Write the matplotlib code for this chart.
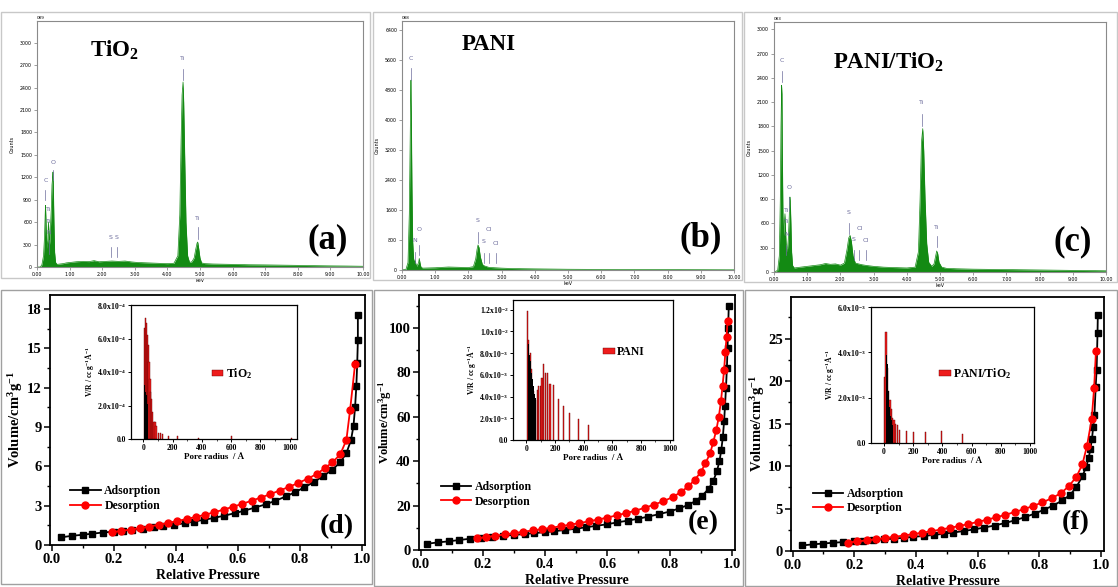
import numpy as np
import matplotlib
matplotlib.use('Agg')
import matplotlib.pyplot as plt
from matplotlib.patches import Rectangle
from matplotlib.ticker import MultipleLocator, FormatStrFormatter

plt.rcParams['font.family'] = ['Liberation Serif', 'DejaVu Serif']
plt.rcParams['font.weight'] = 'bold'
plt.rcParams['axes.labelweight'] = 'bold'
plt.rcParams['mathtext.fontset'] = 'custom'
plt.rcParams['mathtext.rm'] = 'Liberation Serif:bold'
plt.rcParams['mathtext.it'] = 'Liberation Serif:italic:bold'
plt.rcParams['mathtext.bf'] = 'Liberation Serif:bold'

W, H = 1118, 587

# EDS espectros (linha de cima)
tio2_kev = [0.0, 0.10, 0.15, 0.20, 0.23, 0.25, 0.26, 0.27, 0.29, 0.31, 0.33, 0.35, 0.37, 0.39, 0.41,
            0.44, 0.46, 0.48, 0.49, 0.50, 0.52, 0.54, 0.57, 0.62, 0.70, 0.8, 0.9, 1.0, 1.2, 1.4,
            1.6, 1.75, 1.9, 2.1, 2.3, 2.5, 2.7, 2.9, 3.1, 3.4, 3.7, 4.0, 4.2, 4.32, 4.38,
            4.42, 4.45, 4.48, 4.50, 4.53, 4.57, 4.62, 4.68, 4.75, 4.82, 4.87, 4.91, 4.93, 4.96, 5.0,
            5.05, 5.15, 5.4, 6.0, 6.5, 7.0, 7.5, 8.0, 8.5, 9.0, 9.5, 10.0]
tio2_counts = [0, 0, 30, 150, 400, 700, 825, 700, 400, 250, 350, 600, 450, 300, 500,
               800, 1100, 1200, 1270, 1100, 600, 200, 60, 35, 40, 45, 55, 60, 70, 75,
               72, 85, 70, 75, 80, 75, 80, 68, 60, 55, 50, 45, 50, 150, 700,
               1700, 2300, 2474, 2200, 1500, 600, 150, 60, 70, 120, 240, 320, 334, 250, 120,
               55, 45, 40, 35, 30, 28, 25, 22, 18, 15, 13, 10]

pani_kev = [0.0, 0.12, 0.18, 0.22, 0.24, 0.26, 0.27, 0.28, 0.30, 0.32, 0.35, 0.38, 0.40, 0.42, 0.45,
            0.50, 0.52, 0.54, 0.57, 0.62, 0.8, 1.0, 1.2, 1.4, 1.6, 1.8, 2.0, 2.15, 2.22, 2.26,
            2.29, 2.32, 2.36, 2.42, 2.48, 2.55, 2.62, 2.7, 2.8, 3.0, 3.3, 3.6, 4.0, 4.5, 5.0,
            6.0, 7.0, 8.0, 9.0, 10.0]
pani_counts = [0, 20, 200, 1500, 3000, 4500, 5070, 4200, 2200, 800, 300, 200, 250, 150, 100,
               200, 310, 200, 80, 50, 55, 60, 70, 80, 75, 70, 65, 90, 300, 550,
               670, 600, 350, 150, 110, 90, 70, 65, 60, 50, 40, 35, 30, 25, 20,
               15, 12, 10, 8, 5]

comp_kev = [0.0, 0.11, 0.16, 0.19, 0.21, 0.23, 0.24, 0.25, 0.27, 0.29, 0.31, 0.33, 0.35, 0.37, 0.40,
            0.43, 0.46, 0.48, 0.49, 0.51, 0.53, 0.56, 0.61, 0.8, 1.0, 1.2, 1.4, 1.55, 1.7, 1.85,
            2.0, 2.12, 2.2, 2.25, 2.29, 2.33, 2.38, 2.45, 2.55, 2.65, 2.8, 3.0, 3.3, 3.6, 4.0,
            4.25, 4.35, 4.40, 4.44, 4.48, 4.51, 4.55, 4.60, 4.66, 4.75, 4.82, 4.87, 4.90, 4.93, 4.97,
            5.05, 5.2, 5.5, 6.0, 7.0, 8.0, 9.0, 10.0]
comp_counts = [0, 20, 200, 900, 1800, 2308, 2200, 1500, 700, 450, 600, 720, 500, 300, 250,
               400, 700, 927, 880, 600, 250, 80, 50, 60, 70, 80, 90, 105, 95, 100,
               85, 110, 280, 420, 453, 380, 200, 110, 100, 90, 80, 70, 60, 55, 50,
               60, 250, 900, 1600, 1772, 1500, 900, 350, 120, 70, 100, 200, 260, 230, 120,
               60, 45, 40, 35, 30, 25, 20, 15]

# (nome, keV, y do texto, inicio e fim da barrinha)
tio2_peaks = [('C', 0.26, 1160, 890, 1030), ('O', 0.50, 1400, 1160, 1300), ('Ti', 0.37, 770, 0, 0),
              ('Ti', 0.37, 615, 0, 0), ('N', 0.37, 460, 180, 360), ('S', 2.27, 400, 135, 265),
              ('S', 2.44, 400, 135, 265), ('Ti', 4.48, 2790, 2500, 2650), ('Ti', 4.93, 650, 380, 535)]
pani_peaks = [('C', 0.26, 5660, 5080, 5390), ('N', 0.38, 780, 180, 490), ('O', 0.52, 1070, 400, 670),
              ('S', 2.29, 1320, 710, 1025), ('S', 2.46, 760, 180, 445), ('Cl', 2.62, 1090, 180, 445),
              ('Cl', 2.82, 710, 180, 445)]
comp_peaks = [('C', 0.23, 2620, 2350, 2490), ('O', 0.46, 1050, 760, 930), ('Ti', 0.37, 755, 0, 0),
              ('Ti', 0.37, 620, 0, 0), ('N', 0.37, 465, 205, 330), ('S', 2.25, 740, 475, 605),
              ('S', 2.41, 400, 145, 270), ('Cl', 2.57, 535, 145, 270), ('Cl', 2.77, 385, 145, 270),
              ('Ti', 4.46, 2090, 1800, 1955), ('Ti', 4.90, 555, 310, 440)]

# Isotermas (linha de baixo)
tio2_ads_p = [0.03, 0.065, 0.10, 0.13, 0.165, 0.20, 0.23, 0.26, 0.295, 0.33, 0.36, 0.395, 0.43, 0.46, 0.49,
              0.525, 0.555, 0.59, 0.62, 0.655, 0.69, 0.72, 0.755, 0.785, 0.815, 0.845, 0.875, 0.905, 0.93, 0.95,
              0.965, 0.973, 0.978, 0.982, 0.985, 0.987, 0.987]
tio2_ads_v = [0.58, 0.70, 0.78, 0.86, 0.95, 1.02, 1.08, 1.16, 1.24, 1.34, 1.43, 1.54, 1.66, 1.79, 1.92,
              2.07, 2.23, 2.42, 2.61, 2.85, 3.10, 3.36, 3.70, 4.03, 4.40, 4.80, 5.25, 5.75, 6.30, 7.0,
              8.0, 9.1, 10.5, 12.1, 13.9, 15.6, 17.5]
tio2_des_p = [0.195, 0.225, 0.255, 0.285, 0.315, 0.345, 0.375, 0.405, 0.435, 0.465, 0.495, 0.525, 0.555, 0.585, 0.615,
              0.645, 0.675, 0.705, 0.735, 0.765, 0.795, 0.825, 0.855, 0.88, 0.905, 0.93, 0.95, 0.962, 0.978]
tio2_des_v = [0.98, 1.08, 1.18, 1.29, 1.41, 1.54, 1.68, 1.83, 1.98, 2.14, 2.31, 2.50, 2.70, 2.92, 3.14,
              3.38, 3.62, 3.88, 4.15, 4.43, 4.73, 5.05, 5.42, 5.85, 6.30, 6.90, 8.0, 10.3, 13.8]

pani_ads_p = [0.02, 0.055, 0.09, 0.125, 0.16, 0.195, 0.23, 0.265, 0.30, 0.335, 0.365, 0.40, 0.43, 0.465, 0.50,
              0.53, 0.565, 0.60, 0.63, 0.665, 0.70, 0.73, 0.765, 0.80, 0.83, 0.86, 0.885, 0.905, 0.925, 0.94,
              0.952, 0.96, 0.966, 0.971, 0.975, 0.978, 0.981, 0.984, 0.986, 0.988, 0.99]
pani_ads_v = [2.8, 3.4, 3.9, 4.5, 5.1, 5.6, 6.0, 6.4, 6.8, 7.2, 7.6, 8.0, 8.5, 9.0, 9.6,
              10.2, 10.9, 11.6, 12.4, 13.2, 14.1, 15.0, 16.1, 17.3, 18.7, 20.3, 22.2, 24.5, 27.5, 31.0,
              35.5, 40.0, 45.0, 51.0, 58.0, 65.0, 73.0, 82.0, 91.0, 100.0, 110.0]
pani_des_p = [0.18, 0.21, 0.24, 0.27, 0.30, 0.33, 0.36, 0.39, 0.42, 0.45, 0.48, 0.51, 0.54, 0.57, 0.60,
              0.63, 0.66, 0.69, 0.72, 0.75, 0.78, 0.81, 0.835, 0.86, 0.88, 0.90, 0.915, 0.93, 0.94, 0.95,
              0.958, 0.965, 0.97, 0.975, 0.979, 0.983, 0.986]
pani_des_v = [5.2, 5.8, 6.4, 7.0, 7.6, 8.2, 8.8, 9.4, 10.0, 10.7, 11.4, 12.1, 12.9, 13.7, 14.6,
              15.6, 16.6, 17.7, 19.0, 20.4, 22.0, 23.8, 26.0, 28.6, 31.5, 35.0, 39.0, 43.5, 48.5, 54.0,
              60.0, 67.0, 74.0, 81.0, 89.0, 96.0, 103.0]

comp_ads_p = [0.03, 0.065, 0.10, 0.13, 0.165, 0.20, 0.23, 0.26, 0.295, 0.33, 0.36, 0.39, 0.425, 0.46, 0.49,
              0.52, 0.555, 0.59, 0.62, 0.655, 0.69, 0.72, 0.755, 0.785, 0.815, 0.845, 0.875, 0.90, 0.92, 0.94,
              0.952, 0.96, 0.966, 0.971, 0.975, 0.979, 0.983, 0.986, 0.989, 0.99]
comp_ads_v = [0.65, 0.78, 0.88, 0.97, 1.05, 1.13, 1.20, 1.28, 1.37, 1.46, 1.55, 1.66, 1.77, 1.90, 2.03,
              2.17, 2.35, 2.55, 2.75, 3.0, 3.3, 3.6, 4.0, 4.4, 4.85, 5.35, 5.95, 6.6, 7.5, 8.8,
              9.9, 10.9, 12.0, 13.2, 14.6, 16.0, 19.3, 21.3, 25.7, 27.8]
comp_des_p = [0.18, 0.21, 0.24, 0.27, 0.30, 0.33, 0.36, 0.39, 0.42, 0.45, 0.48, 0.51, 0.54, 0.57, 0.60,
              0.63, 0.66, 0.69, 0.72, 0.75, 0.78, 0.81, 0.84, 0.87, 0.895, 0.92, 0.94, 0.955, 0.97, 0.978,
              0.984]
comp_des_v = [1.0, 1.12, 1.25, 1.38, 1.52, 1.67, 1.82, 1.98, 2.15, 2.33, 2.52, 2.72, 2.94, 3.17, 3.42,
              3.68, 3.96, 4.26, 4.58, 4.92, 5.3, 5.72, 6.2, 6.8, 7.6, 8.7, 10.2, 12.4, 15.5, 19.2,
              23.6]

# Distribuicao de poros (insets)
tio2_red_r = [6, 13, 19, 26, 32, 38, 45, 51, 58, 65, 72, 79, 86, 100, 115, 130, 170, 235, 375, 605, 1010]
tio2_red_v = [6.6e-4, 7.2e-4, 6.9e-4, 6.2e-4, 5.6e-4, 4.6e-4, 3.6e-4, 2.8e-4, 2.4e-4, 1.6e-4, 1.0e-4,
              1.0e-4, 0.8e-4, 0.35e-4, 0.35e-4, 0.3e-4, 0.2e-4, 0.2e-4, 0.08e-4, 0.18e-4, 0.08e-4]
tio2_blk_r = [3, 7, 11, 15, 19, 23, 27, 31]
tio2_blk_v = [3.6e-4, 3.2e-4, 3.0e-4, 2.8e-4, 2.6e-4, 2.4e-4, 2.1e-4, 1.6e-4]

pani_red_r = [7, 18, 28, 38, 50, 64, 76, 87, 99, 110, 120, 133, 147, 166, 190, 225, 258, 304, 363, 437]
pani_red_v = [11.9e-3, 9.2e-3, 8.0e-3, 6.5e-3, 4.5e-3, 3.7e-3, 4.6e-3, 5.0e-3, 5.0e-3, 5.7e-3,
              7.0e-3, 6.2e-3, 6.2e-3, 5.2e-3, 5.1e-3, 3.8e-3, 3.1e-3, 2.5e-3, 1.9e-3, 1.4e-3]
pani_blk_r = [14, 19, 24, 29, 34, 39, 44, 49, 54, 59, 64, 69]
pani_blk_v = [8.8e-3, 8.3e-3, 7.8e-3, 7.3e-3, 6.8e-3, 6.2e-3, 5.6e-3, 5.0e-3, 4.6e-3, 4.2e-3, 3.9e-3, 3.6e-3]

comp_red_r = [5, 14, 23, 32, 41, 50, 59, 68, 79, 91, 104, 152, 202, 284, 395, 538]
comp_red_v = [2.9e-3, 4.9e-3, 3.3e-3, 2.3e-3, 1.9e-3, 1.5e-3, 1.1e-3, 1.0e-3, 0.85e-3, 0.78e-3,
              0.57e-3, 0.55e-3, 0.5e-3, 0.48e-3, 0.55e-3, 0.39e-3]
comp_blk_r = [18, 22, 26, 30, 34, 38, 42, 46, 50, 54, 58]
comp_blk_v = [3.9e-3, 3.5e-3, 2.9e-3, 2.3e-3, 1.9e-3, 1.6e-3, 1.4e-3, 1.2e-3, 1.0e-3, 0.9e-3, 0.8e-3]

GREEN = '#138a13'
PEAK_COLOR = '#6d6d9c'

fig = plt.figure(figsize=(W / 100, H / 100), dpi=100)


def px_box(l, r, t, b):
    return [l / W, (H - b) / H, (r - l) / W, (b - t) / H]


def moldura(l, r, t, b, cor):
    fig.add_artist(Rectangle((l / W, (H - b) / H), (r - l) / W, (b - t) / H,
                             transform=fig.transFigure, fill=False, ec=cor, lw=1))


def espectro(box, kev, counts, ymax, ystep, amostra, amostra_xy, letra, letra_xy, picos, spec_id):
    ax = fig.add_axes(px_box(*box))
    ax.fill_between(kev, counts, color=GREEN, lw=0)
    ax.plot(kev, counts, color=GREEN, lw=0.5)
    ax.set_xlim(0, 10)
    ax.set_ylim(0, ymax)
    xt = np.arange(0, 11)
    ax.set_xticks(xt)
    ax.set_xticklabels([f'{v:.2f}' for v in xt])
    yt = np.arange(0, ymax, ystep)
    ax.set_yticks(yt)
    ax.set_yticklabels([str(int(v)) for v in yt])
    ax.tick_params(labelsize=3.4, length=2, width=0.5, color='#777777', pad=1.5,
                   labelfontfamily='DejaVu Sans')
    for lab in ax.get_xticklabels() + ax.get_yticklabels():
        lab.set_fontweight('normal')
    for s in ax.spines.values():
        s.set_color('#8a8a8a')
        s.set_linewidth(0.8)
    ax.set_xlabel('keV', fontsize=3.5, family='DejaVu Sans', fontweight='normal', labelpad=1)
    ax.set_ylabel('Counts', fontsize=3.5, family='DejaVu Sans', fontweight='normal', labelpad=4)
    ax.text(0.0, 1.005, spec_id, transform=ax.transAxes, fontsize=3, family='DejaVu Sans',
            fontweight='normal', va='bottom')
    ax.text(amostra_xy[0], amostra_xy[1], amostra, transform=ax.transAxes, fontsize=16.5,
            ha='left', va='center')
    ax.text(letra_xy[0], letra_xy[1], letra, transform=ax.transAxes, fontsize=25,
            ha='center', va='center')
    for nome, x, ty, y0, y1 in picos:
        ax.text(x, ty, nome, fontsize=4.5, color=PEAK_COLOR, ha='center', va='center',
                family='DejaVu Sans', fontweight='normal')
        if y1 > y0:
            ax.plot([x, x], [y0, y1], color=PEAK_COLOR, lw=0.5)
    return ax


def isoterma(box, ads_p, ads_v, des_p, des_v, ymax, ystep, letra, letra_xy, leg_xy, ylab_size, ylab_x):
    ax = fig.add_axes(px_box(*box))
    ax.plot(ads_p, ads_v, 's-', color='black', ms=4.2, lw=1.3, label='Adsorption')
    ax.plot(des_p, des_v, 'o-', color='red', ms=5, lw=1.3, label='Desorption')
    ax.set_xlim(-0.005, 1.01)
    ax.set_ylim(0, ymax)
    ax.xaxis.set_major_locator(MultipleLocator(0.2))
    ax.xaxis.set_minor_locator(MultipleLocator(0.1))
    ax.xaxis.set_major_formatter(FormatStrFormatter('%.1f'))
    ax.yaxis.set_major_locator(MultipleLocator(ystep))
    ax.yaxis.set_minor_locator(MultipleLocator(ystep / 2))
    ax.tick_params(direction='out', labelsize=10.5, length=4, width=1.1, pad=2)
    ax.tick_params(which='minor', direction='out', length=2.5, width=1)
    for s in ax.spines.values():
        s.set_linewidth(1.3)
    ax.set_xlabel('Relative Pressure', fontsize=10, labelpad=2)
    ax.set_ylabel('Volume/cm$^{3}$g$^{-1}$', fontsize=ylab_size)
    ax.yaxis.set_label_coords(ylab_x, 0.5)
    ax.text(letra_xy[0], letra_xy[1], letra, transform=ax.transAxes, fontsize=20,
            ha='center', va='center')
    ax.legend(loc='center left', bbox_to_anchor=leg_xy, frameon=False, fontsize=8.5,
              handlelength=2.6, labelspacing=0.2, handletextpad=0.3, borderpad=0)
    return ax


def inset(box, xlim, ymax, yticks, ylabels, red_r, red_v, blk_r, blk_v, red_w, blk_w, nome, leg_xy):
    ax = fig.add_axes(px_box(*box))
    ax.bar(red_r, red_v, width=red_w, color='#ee1c1c', edgecolor='#6b0000', linewidth=0.3, label=nome)
    ax.bar(blk_r, blk_v, width=blk_w, color='black', linewidth=0)
    ax.set_xlim(*xlim)
    ax.set_ylim(0, ymax)
    ax.set_xticks([0, 200, 400, 600, 800, 1000])
    ax.xaxis.set_minor_locator(MultipleLocator(100))
    ax.set_yticks(yticks)
    ax.set_yticklabels(ylabels)
    ax.tick_params(direction='out', labelsize=5.5, length=2, width=0.7, pad=1.5)
    ax.tick_params(which='minor', direction='out', length=1.2, width=0.5)
    for s in ax.spines.values():
        s.set_linewidth(0.9)
    ax.set_xlabel('Pore radius  / Å', fontsize=6.5, labelpad=1)
    ax.set_ylabel('V/R / cc g$^{-1}$Å$^{-1}$', fontsize=5.5, labelpad=1)
    ax.legend(loc='center left', bbox_to_anchor=leg_xy, frameon=False, fontsize=8.5,
              handlelength=1.0, handleheight=0.4, handletextpad=0.2, borderpad=0)
    return ax


# molduras das figuras originais
moldura(1, 370, 12, 278, '#c8c8c8')
moldura(373, 742, 12, 280, '#c8c8c8')
moldura(744, 1117, 12, 282, '#c8c8c8')
moldura(1, 372, 290, 584, '#a0a0a0')
moldura(374, 743, 290, 586, '#a0a0a0')
moldura(745, 1117, 290, 586, '#a0a0a0')

espectro((37, 363, 21, 267), tio2_kev, tio2_counts, 3290, 300, 'TiO$_{2}$', (0.163, 0.88),
         '(a)', (0.893, 0.11), tio2_peaks, '089')
espectro((402, 734, 21, 270), pani_kev, pani_counts, 6650, 800, 'PANI', (0.18, 0.904),
         '(b)', (0.90, 0.13), pani_peaks, '088')
espectro((774, 1106, 22, 272), comp_kev, comp_counts, 3090, 300, 'PANI/TiO$_{2}$', (0.178, 0.84),
         '(c)', (0.90, 0.12), comp_peaks, '083')

isoterma((50, 365, 295, 545), tio2_ads_p, tio2_ads_v, tio2_des_p, tio2_des_v, 19.06, 3,
         '(d)', (0.91, 0.075), (0.045, 0.186), 10.5, -0.078)
isoterma((419, 735, 295, 550), pani_ads_p, pani_ads_v, pani_des_p, pani_des_v, 114.8, 20,
         '(e)', (0.90, 0.106), (0.05, 0.218), 9, -0.079)
isoterma((791, 1104, 297, 551), comp_ads_p, comp_ads_v, comp_des_p, comp_des_v, 29.9, 5,
         '(f)', (0.91, 0.11), (0.05, 0.197), 10.5, -0.077)

inset((131, 297, 305, 439), (-85, 1050), 8e-4, [0, 2e-4, 4e-4, 6e-4, 8e-4],
      ['0.0', '2.0x10$^{-4}$', '4.0x10$^{-4}$', '6.0x10$^{-4}$', '8.0x10$^{-4}$'],
      tio2_red_r, tio2_red_v, tio2_blk_r, tio2_blk_v, 7.5, 4, 'TiO$_{2}$', (0.45, 0.49))
inset((513, 673, 300, 440), (-92, 1023), 1.29e-2, [0, 2e-3, 4e-3, 6e-3, 8e-3, 1e-2, 1.2e-2],
      ['0.0', '2.0x10$^{-3}$', '4.0x10$^{-3}$', '6.0x10$^{-3}$', '8.0x10$^{-3}$',
       '1.0x10$^{-2}$', '1.2x10$^{-2}$'],
      pani_red_r, pani_red_v, pani_blk_r, pani_blk_v, 8, 4.5, 'PANI', (0.525, 0.63))
inset((871, 1034, 307, 443), (-89, 1027), 6e-3, [0, 2e-3, 4e-3, 6e-3],
      ['0.0', '2.0x10$^{-3}$', '4.0x10$^{-3}$', '6.0x10$^{-3}$'],
      comp_red_r, comp_red_v, comp_blk_r, comp_blk_v, 8, 4, 'PANI/TiO$_{2}$', (0.38, 0.51))

fig.savefig('out.png', dpi=100)
